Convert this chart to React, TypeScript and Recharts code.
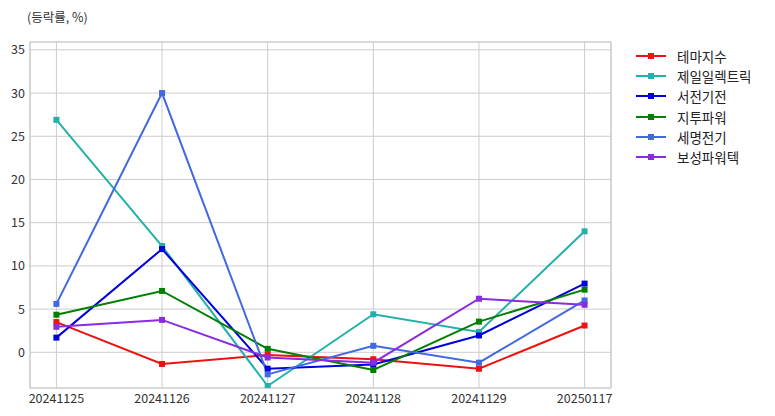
import React from 'react';
import { LineChart, Line, XAxis, YAxis, CartesianGrid, ReferenceArea } from 'recharts';

const categories = ['20241125', '20241126', '20241127', '20241128', '20241129', '20250117'];
const yTicks = [0, 5, 10, 15, 20, 25, 30, 35];

const themeIndex = [3.5, -1.35, -0.3, -0.8, -1.9, 3.1];
const jeil = [26.9, 12.3, -3.9, 4.4, 2.35, 14.0];
const seojeon = [1.7, 11.95, -1.9, -1.4, 1.95, 7.95];
const jitu = [4.35, 7.1, 0.4, -2.05, 3.55, 7.25];
const semyung = [5.6, 30.0, -2.55, 0.75, -1.2, 6.0];
const bosung = [2.95, 3.75, -0.6, -1.2, 6.2, 5.5];

const seriesNames = ['테마지수', '제일일렉트릭', '서전기전', '지투파워', '세명전기', '보성파워텍'];
const seriesKeys = ['s0', 's1', 's2', 's3', 's4', 's5'];
const seriesColors = ['#ee1111', '#20b2aa', '#0000dd', '#007f00', '#4169e1', '#8a2be2'];
const seriesValues = [themeIndex, jeil, seojeon, jitu, semyung, bosung];

const data = categories.map((c, i) => {
  const row: any = { idx: i, cat: c };
  seriesKeys.forEach((k, j) => { row[k] = seriesValues[j][i]; });
  return row;
});

const FONT = '"Noto Sans CJK KR", "Noto Sans", sans-serif';
const Y_MIN = -4.13;
const Y_MAX = 35.91;
const X_MIN = -0.25;
const X_MAX = 5.25;

const SquareDot = (props: any) => {
  const { cx, cy, stroke } = props;
  if (cx == null || cy == null) return null;
  return <rect x={cx - 3} y={cy - 3} width={6} height={6} fill={stroke} />;
};

const LegendBox = () => (
  <div style={{ position: 'absolute', left: 636, top: 46, fontFamily: FONT, fontSize: 13.5, color: '#222' }}>
    {seriesNames.map((n, i) => (
      <div key={n} style={{ display: 'flex', alignItems: 'center', height: 20.2 }}>
        <svg width={30} height={10} style={{ marginRight: 11 }}>
          <line x1={0} y1={5} x2={30} y2={5} stroke={seriesColors[i]} strokeWidth={2} />
          <rect x={12} y={2} width={6} height={6} fill={seriesColors[i]} />
        </svg>
        <span>{n}</span>
      </div>
    ))}
  </div>
);

export default function App() {
  return (
    <div style={{ position: 'absolute', left: 0, top: 0, width: 775, height: 416, background: '#fff' }}>
      <div style={{ position: 'absolute', left: 27, top: 7, fontFamily: FONT, fontSize: 12.5, color: '#333' }}>
        (등락률, %)
      </div>
      <LineChart width={775} height={416} data={data} margin={{ top: 42, right: 164, bottom: 0, left: 0 }}>
        <CartesianGrid stroke="#cccccc" strokeWidth={1} />
        <ReferenceArea x1={X_MIN} x2={X_MAX} y1={Y_MIN} y2={Y_MAX} fill="none" stroke="#cccccc" strokeWidth={1.2} ifOverflow="visible" />
        <XAxis
          dataKey="idx"
          type="number"
          domain={[X_MIN, X_MAX]}
          ticks={[0, 1, 2, 3, 4, 5]}
          tickFormatter={(v: number) => categories[v]}
          height={28}
          axisLine={false}
          tickLine={false}
          tickSize={0}
          tickMargin={6}
          interval={0}
          tick={{ fontFamily: FONT, fontSize: 12.5, fill: '#333' }}
        />
        <YAxis
          type="number"
          domain={[Y_MIN, Y_MAX]}
          ticks={yTicks}
          allowDataOverflow
          width={30}
          axisLine={false}
          tickLine={false}
          tickSize={0}
          tickMargin={5}
          tick={{ fontFamily: FONT, fontSize: 12.5, fill: '#333' }}
        />
        {seriesKeys.map((k, j) => (
          <Line
            key={k}
            dataKey={k}
            name={seriesNames[j]}
            stroke={seriesColors[j]}
            strokeWidth={2}
            dot={<SquareDot />}
            activeDot={false}
            isAnimationActive={false}
          />
        ))}
      </LineChart>
      <LegendBox />
    </div>
  );
}
